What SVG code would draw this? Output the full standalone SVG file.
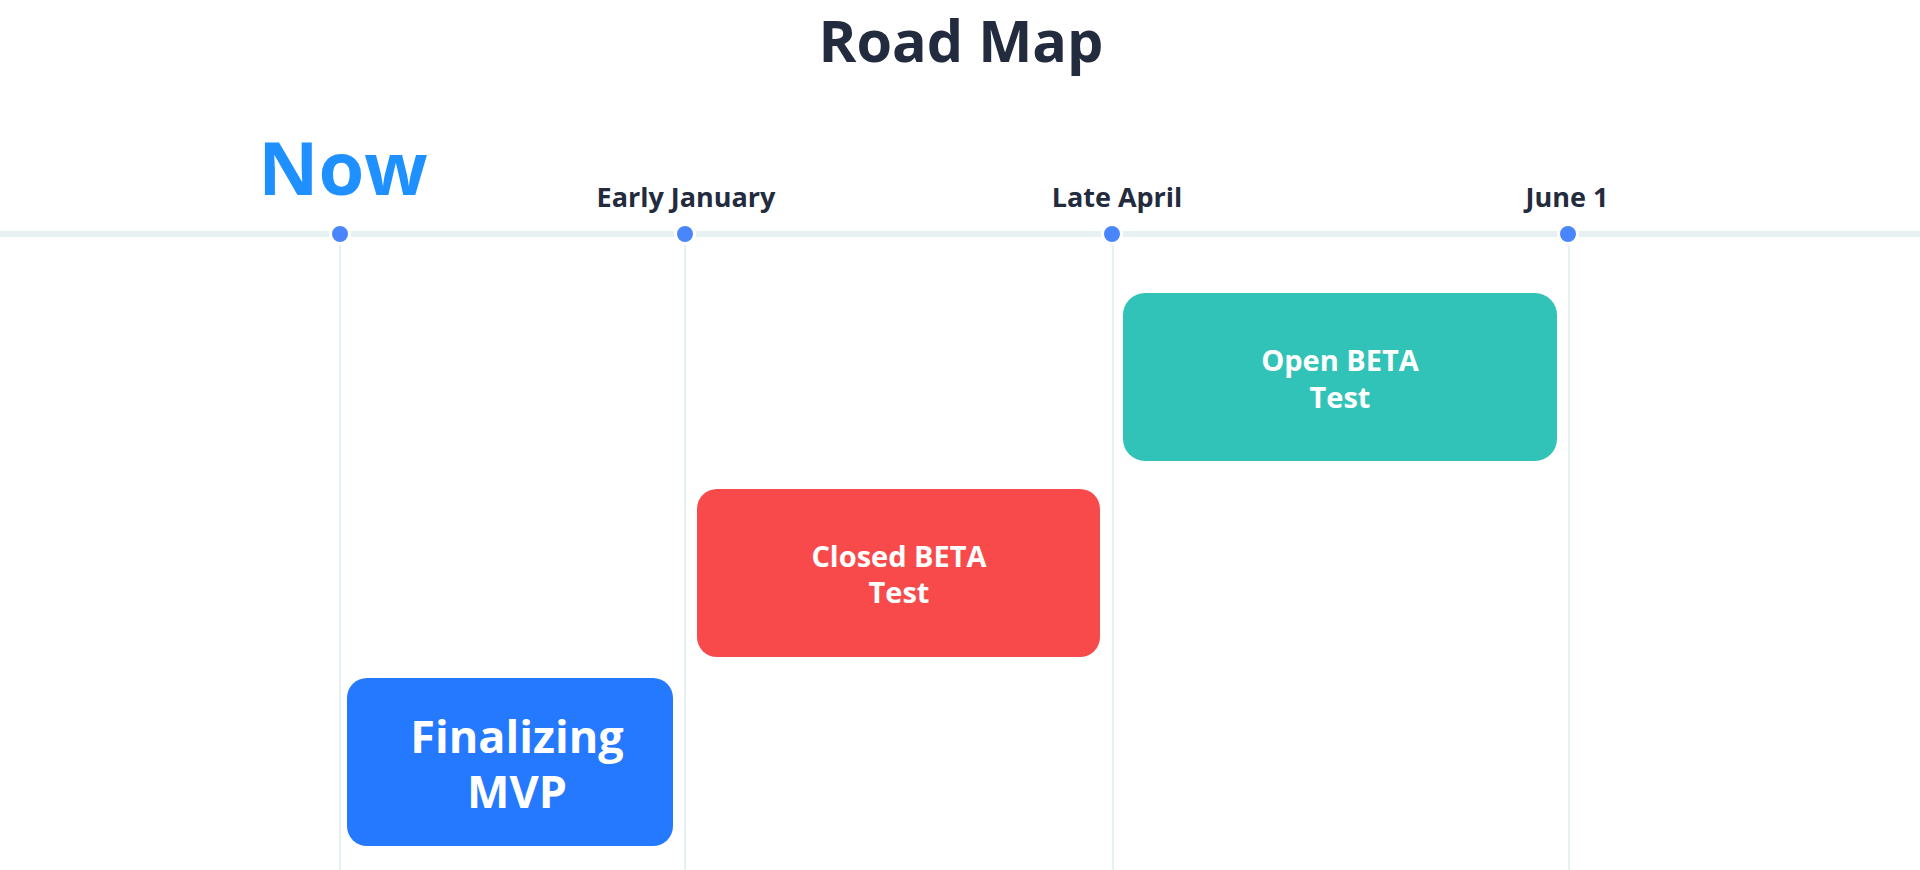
<svg xmlns="http://www.w3.org/2000/svg" width="1920" height="870" viewBox="0 0 1920 870">
<style>
text{font-family:"Open Sans","Noto Sans","DejaVu Sans",sans-serif;font-weight:700;text-anchor:middle}
.dark{fill:#232b3e}
.lbl{font-size:27px}
.white{fill:#ffffff}
.vl{stroke:#e8f1f2;stroke-width:2}
.dot{fill:#4a86fb;stroke:#ffffff;stroke-width:3}
.box{font-size:29px}
</style>
<rect width="1920" height="870" fill="#ffffff"/>
<text class="dark" x="961" y="62" font-size="57.5">Road Map</text>
<g id="connectors">
<line x1="0" y1="234" x2="1920" y2="234" stroke="#e8f1f2" stroke-width="6"/>
<line class="vl" x1="340" y1="244" x2="340" y2="870"/>
<line class="vl" x1="685" y1="244" x2="685" y2="870"/>
<line class="vl" x1="1113" y1="244" x2="1113" y2="870"/>
<line class="vl" x1="1569" y1="244" x2="1569" y2="870"/>
</g>
<g id="now">
<text x="343" y="195" font-size="74" fill="#1e90ff">Now</text>
<circle class="dot" cx="340" cy="234" r="9.5"/>
</g>
<g id="early-january">
<text class="dark lbl" x="686" y="207">Early January</text>
<circle class="dot" cx="685" cy="234" r="9.5"/>
</g>
<g id="late-april">
<text class="dark lbl" x="1117" y="207">Late April</text>
<circle class="dot" cx="1112" cy="234" r="9.5"/>
</g>
<g id="june-1">
<text class="dark lbl" x="1567" y="207">June 1</text>
<circle class="dot" cx="1568" cy="234" r="9.5"/>
</g>
<g id="finalizing-mvp">
<rect x="347" y="678" width="326" height="168" rx="20" fill="#2479fe"/>
<text class="white" x="517" y="753" font-size="45">Finalizing</text>
<text class="white" x="517" y="808" font-size="45">MVP</text>
</g>
<g id="closed-beta">
<rect x="697" y="489" width="403" height="168" rx="20" fill="#f84a4a"/>
<text class="white box" x="899" y="567">Closed BETA</text>
<text class="white box" x="899" y="603">Test</text>
</g>
<g id="open-beta">
<rect x="1123" y="293" width="434" height="168" rx="22" fill="#32c3b8"/>
<text class="white box" x="1340" y="371">Open BETA</text>
<text class="white box" x="1340" y="408">Test</text>
</g>
</svg>
